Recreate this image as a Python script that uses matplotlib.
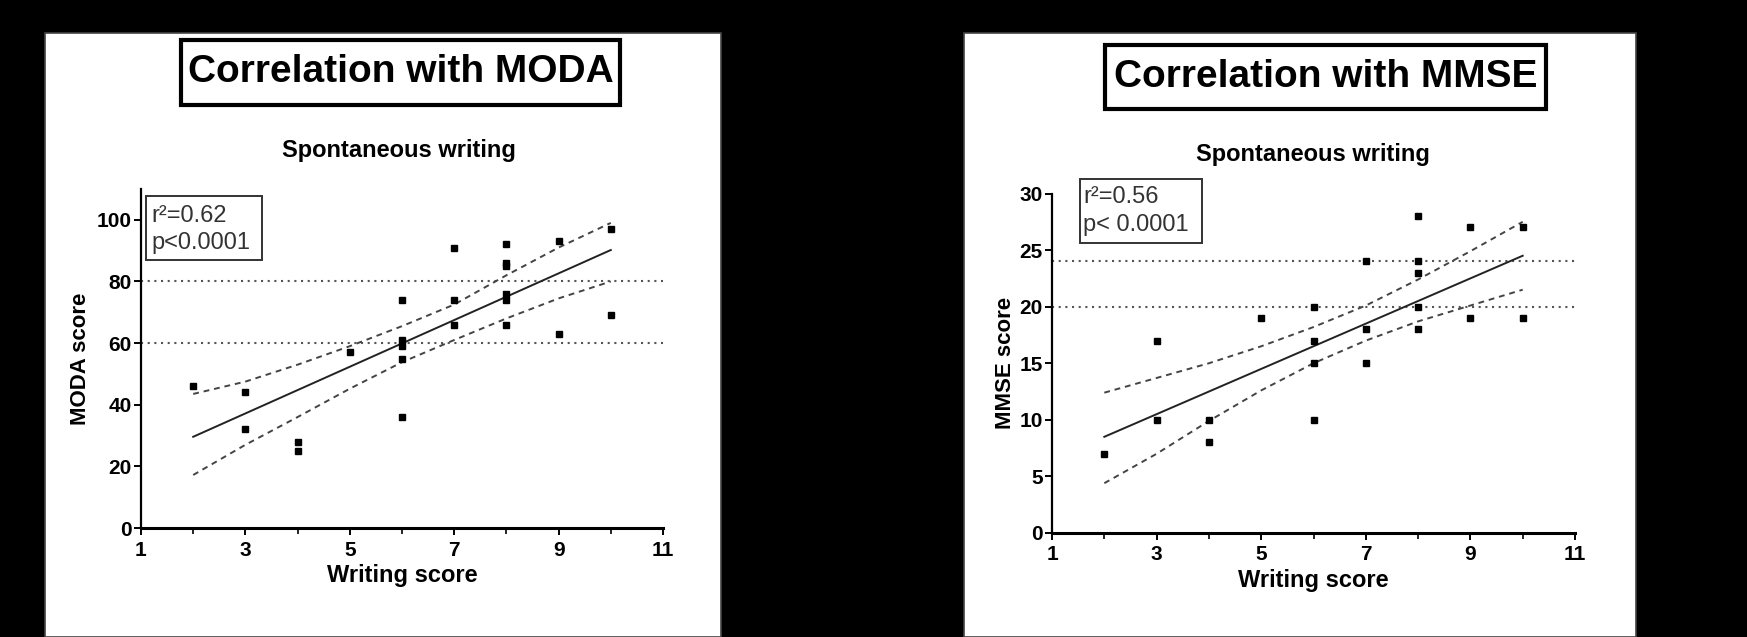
import numpy as np
import matplotlib
matplotlib.use("Agg")
import matplotlib.pyplot as plt
from matplotlib.patches import Rectangle

# ---------------------------------
# Datos
# ---------------------------------

moda_x = [2, 3, 3, 4, 4, 5, 6, 6, 6, 6, 6, 7, 7, 7, 8, 8, 8, 8, 8, 8, 9, 9, 10, 10]
moda_y = [46, 44, 32, 28, 25, 57, 74, 61, 59, 55, 36, 91, 74, 66, 92, 86, 85, 76, 74, 66, 93, 63, 97, 69]

mmse_x = [2, 3, 3, 4, 4, 5, 6, 6, 6, 6, 7, 7, 7, 8, 8, 8, 8, 8, 9, 9, 10, 10]
mmse_y = [7, 17, 10, 10, 8, 19, 20, 17, 15, 10, 24, 18, 15, 28, 24, 23, 20, 18, 27, 19, 27, 19]

# recta de regresion y bandas de confianza
fit_x = [2, 10]
moda_fit = [29.6, 90.2]
mmse_fit = [8.5, 24.5]

band_x = [2, 3, 4, 5, 6, 7, 8, 9, 10]
moda_up = [43.5, 47.5, 53, 59, 65.5, 72.5, 82, 91, 99]
moda_lo = [17.2, 27, 36, 45.2, 53.8, 61, 68, 74.5, 80]
mmse_up = [12.4, 13.7, 15.0, 16.5, 18.2, 20.1, 22.4, 24.9, 27.5]
mmse_lo = [4.4, 7.0, 9.9, 12.6, 15.0, 17.0, 18.7, 20.1, 21.5]

moda_ref = [80, 60]
mmse_ref = [24, 20]

x_ticks = [1, 3, 5, 7, 9, 11]
moda_ticks = [0, 20, 40, 60, 80, 100]
mmse_ticks = [0, 5, 10, 15, 20, 25, 30]

# ---------------------------------
# Figura
# ---------------------------------

W, H = 1747, 637
fig = plt.figure(figsize=(W / 100, H / 100), dpi=100, facecolor="black")

sans = ["Liberation Sans", "DejaVu Sans"]
narrow = ["Liberation Sans Narrow", "Liberation Sans", "DejaVu Sans"]


def rect_px(x0, y0, x1, y1):
    return [x0 / W, 1 - y1 / H, (x1 - x0) / W, (y1 - y0) / H]


def pt(x, y):
    return x / W, 1 - y / H


def panel(x0, y0, x1):
    fig.add_artist(Rectangle((x0 / W, 0), (x1 - x0) / W, 1 - y0 / H,
                             transform=fig.transFigure, facecolor="white",
                             edgecolor="#444444", linewidth=1.2, zorder=0))


def title_box(x0, y0, x1, y1, text):
    fig.add_artist(Rectangle((x0 / W, 1 - y1 / H), (x1 - x0) / W, (y1 - y0) / H,
                             transform=fig.transFigure, facecolor="white",
                             edgecolor="black", linewidth=3, zorder=1))
    cx, cy = pt((x0 + x1) / 2, (y0 + y1) / 2)
    fig.text(cx, cy, text, ha="center", va="center", fontsize=28,
             fontweight="bold", family=sans, zorder=2)


def scatter_panel(ax, xs, ys, fit_y, up, lo, refs, yticks, ymax, ylabel,
                  rbox, rtxt, ptxt, rpos, ylab_x):
    for r in refs:
        ax.plot([1, 11], [r, r], linestyle=(0, (1, 2.2)), color="#555555",
                linewidth=1.5, zorder=1)
    ax.plot(band_x, up, linestyle=(0, (3, 2.5)), color="#444444", linewidth=1.4)
    ax.plot(band_x, lo, linestyle=(0, (3, 2.5)), color="#444444", linewidth=1.4)
    ax.plot(fit_x, fit_y, color="#222222", linewidth=1.4)
    ax.plot(xs, ys, "s", color="black", markersize=4.8, zorder=3)

    ax.set_xlim(1, 11)
    ax.set_ylim(0, ymax)
    ax.set_xticks(x_ticks)
    ax.set_xticks(band_x, minor=True)
    ax.set_yticks(yticks)
    for s in ["top", "right"]:
        ax.spines[s].set_visible(False)
    ax.spines["left"].set_linewidth(1.6)
    ax.spines["bottom"].set_linewidth(2.2)
    ax.tick_params(axis="both", which="major", length=5, width=1.4,
                   direction="out", labelsize=15)
    ax.tick_params(axis="x", which="minor", length=4, width=1.2)
    ax.tick_params(axis="y", pad=1.5)
    ax.tick_params(axis="x", pad=4)
    for lab in ax.get_xticklabels() + ax.get_yticklabels():
        lab.set_family(narrow)
        lab.set_fontweight("bold")

    ax.set_xlabel("Writing score", fontsize=17, fontweight="bold", family=sans)
    ax.xaxis.set_label_coords(0.5, -0.105)
    ax.xaxis.label.set_va("top")
    ax.set_ylabel(ylabel, fontsize=16, fontweight="bold", family=sans)
    ax.yaxis.set_label_coords(ylab_x, 0.5)

    bx0, by0, bx1, by1 = rbox
    ax.add_patch(Rectangle((bx0, by0), bx1 - bx0, by1 - by0, facecolor="white",
                           edgecolor="#333333", linewidth=1.4, clip_on=False,
                           zorder=4))
    ax.text(rpos[0], rpos[1], rtxt, fontsize=17, color="#333333", family=sans,
            ha="left", va="center", zorder=5, clip_on=False)
    ax.text(rpos[0], rpos[2], ptxt, fontsize=17, color="#333333", family=sans,
            ha="left", va="center", zorder=5, clip_on=False)


# ---------------------------------
# Panel izquierdo: MODA
# ---------------------------------

panel(45, 32.5, 721)
title_box(181, 40, 620, 105, "Correlation with MODA")
fig.text(*pt(398.5, 150), "Spontaneous writing", ha="center", va="center",
         fontsize=17, fontweight="bold", family=sans)

ax1 = fig.add_axes(rect_px(141, 189, 663, 528))
ax1.set_facecolor("white")
scatter_panel(ax1, moda_x, moda_y, moda_fit, moda_up, moda_lo, moda_ref,
              moda_ticks, 110, "MODA score",
              (1.096, 87.0, 3.318, 107.8), "r\u00b2=0.62", "p<0.0001",
              (1.2, 101.3, 92.4), -0.095)

# ---------------------------------
# Panel derecho: MMSE
# ---------------------------------

panel(964, 33, 1636)
title_box(1105, 45, 1546, 109, "Correlation with MMSE")
fig.text(*pt(1312.5, 154.5), "Spontaneous writing", ha="center", va="center",
         fontsize=17, fontweight="bold", family=sans)

ax2 = fig.add_axes(rect_px(1052, 193.5, 1575, 533))
ax2.set_facecolor("white")
scatter_panel(ax2, mmse_x, mmse_y, mmse_fit, mmse_up, mmse_lo, mmse_ref,
              mmse_ticks, 30, "MMSE score",
              (1.535, 25.6, 3.862, 31.25), "r\u00b2=0.56", "p< 0.0001",
              (1.6, 29.7, 27.2), -0.069)

fig.savefig("out.png", dpi=100, facecolor="black")
